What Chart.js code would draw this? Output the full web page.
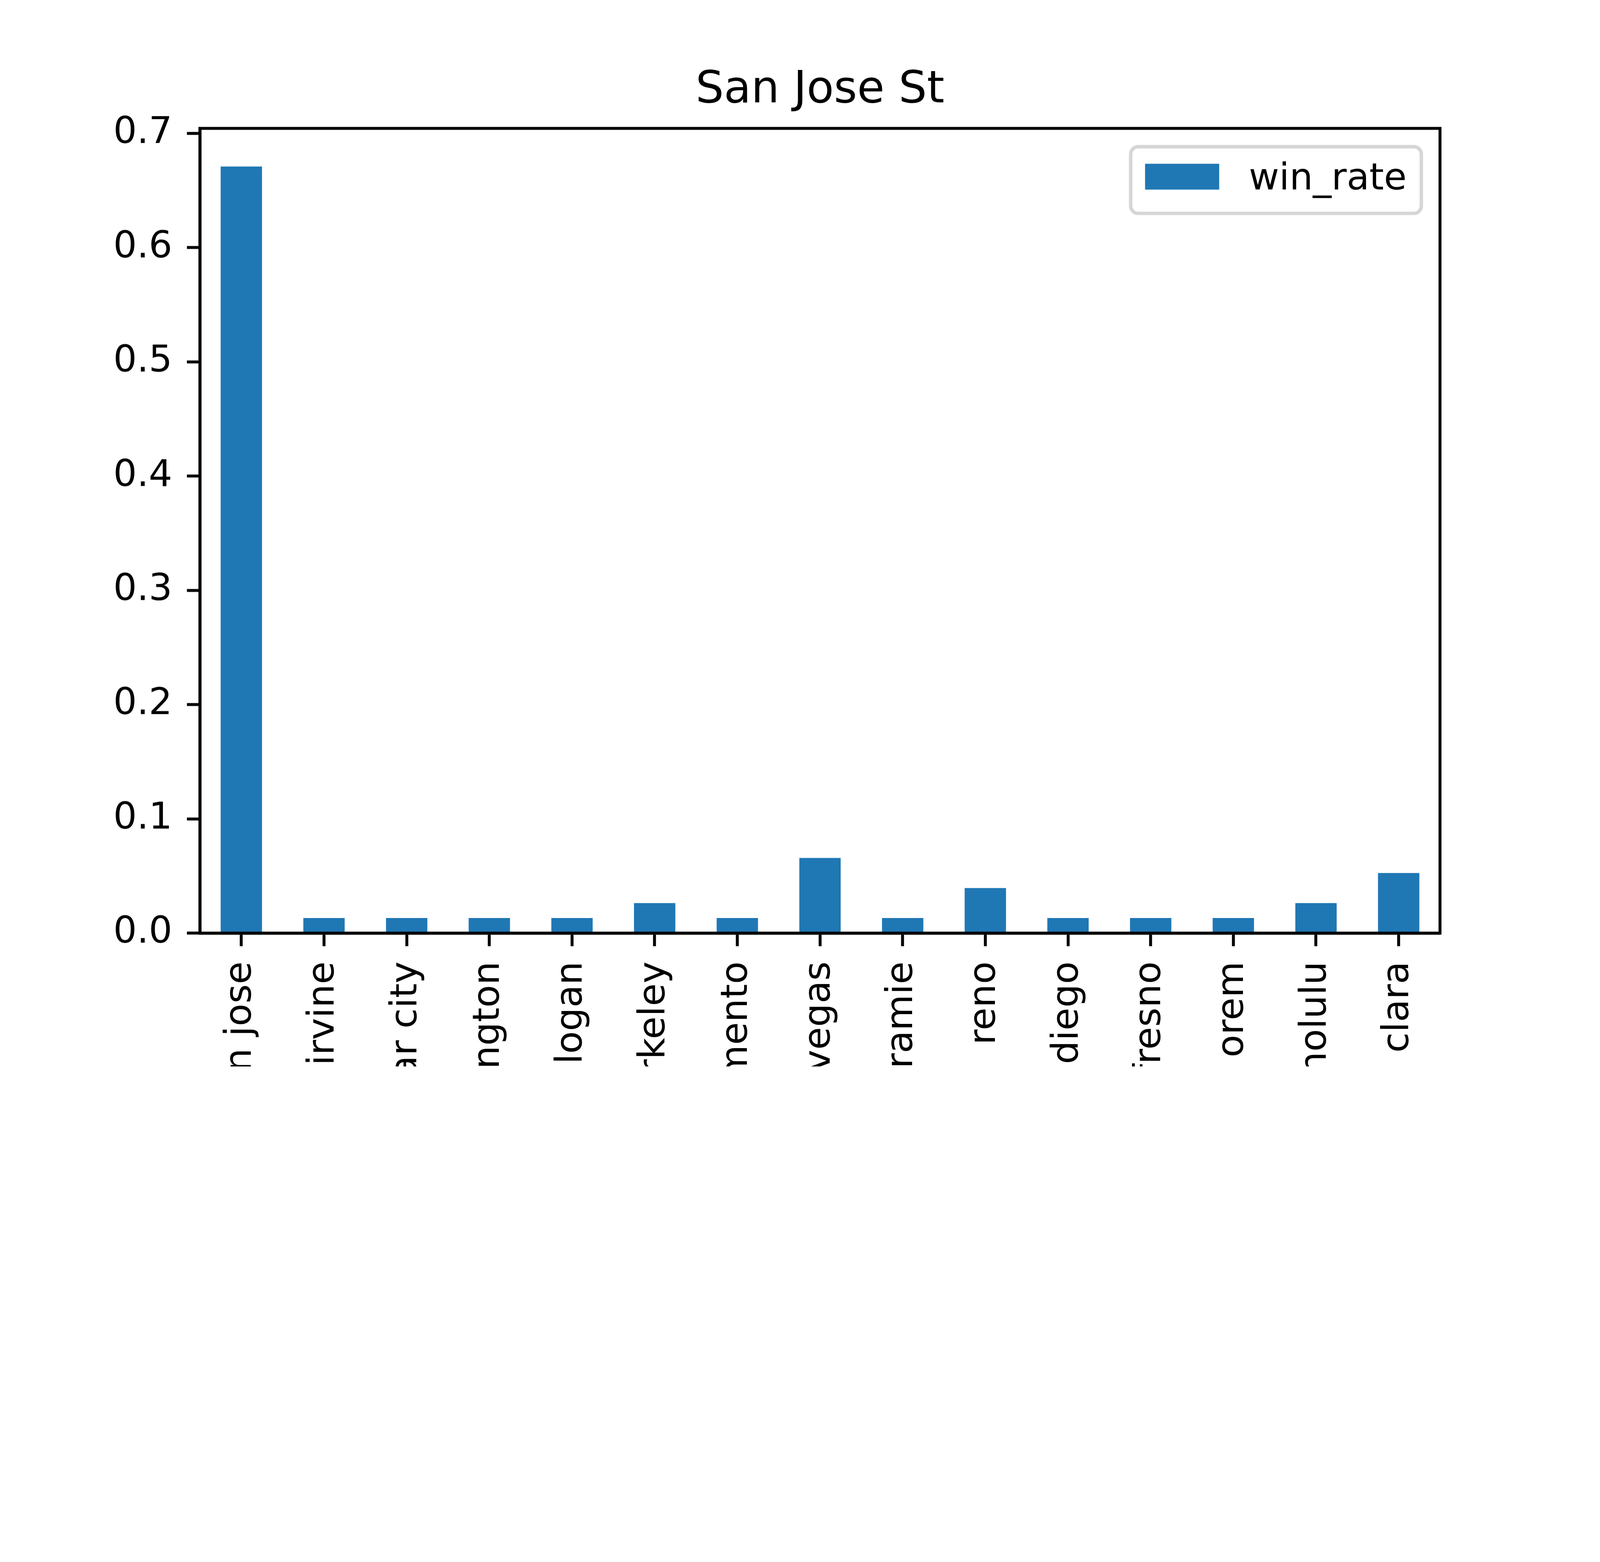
<!DOCTYPE html>
<html>
<head>
<meta charset="utf-8">
<script src="https://cdn.jsdelivr.net/npm/chart.js@4/dist/chart.umd.min.js"></script>
<style>
  html, body { margin: 0; padding: 0; background: #fff; overflow: hidden; }
  canvas { display: block; position: absolute; left: 0; top: 0; }
</style>
</head>
<body>
<canvas id="winChart"></canvas>
<script>
// city each game was played in, and the win rate there
const cities = [
  "san jose", "irvine", "cedar city", "arlington", "logan",
  "berkeley", "sacramento", "las vegas", "laramie", "reno",
  "san diego", "fresno", "orem", "honolulu", "santa clara"
];
const winRate = [
  0.671, 0.0132, 0.0132, 0.0132, 0.0132,
  0.0263, 0.0132, 0.0658, 0.0132, 0.0395,
  0.0132, 0.0132, 0.0132, 0.0263, 0.0526
];
const seriesName = "win_rate";
const chartTitle = "San Jose St";

const barColor = "#1f77b4";
const fontFamily = "'DejaVu Sans', 'Liberation Sans', sans-serif";

// sizes below are worked out for a 6000x4000 picture, scale them to the window
const S = Math.min(window.innerWidth / 6000, window.innerHeight / 4000);
const u = (v) => v * S;

const canvas = document.getElementById("winChart");
canvas.style.width = u(6000) + "px";
canvas.style.height = u(4000) + "px";

// full box round the plot, like matplotlib spines
const frame = {
  id: "frame",
  afterDatasetsDraw(chart) {
    const { ctx, chartArea: a } = chart;
    ctx.save();
    ctx.strokeStyle = "#000";
    ctx.lineWidth = u(11);
    ctx.strokeRect(a.left, a.top, a.right - a.left, a.bottom - a.top);
    ctx.restore();
  },
};

// legend box in the upper right corner of the plot
const boxLegend = {
  id: "boxLegend",
  afterDraw(chart) {
    const { ctx } = chart;
    ctx.save();
    ctx.beginPath();
    ctx.roundRect(u(4240), u(550), u(1090), u(250), u(28));
    ctx.fillStyle = "rgba(255,255,255,0.8)";
    ctx.fill();
    ctx.lineWidth = u(13);
    ctx.strokeStyle = "#d6d6d6";
    ctx.stroke();
    ctx.fillStyle = barColor;
    ctx.fillRect(u(4294), u(614), u(278), u(97));
    ctx.fillStyle = "#000";
    ctx.font = u(139) + "px " + fontFamily;
    ctx.textBaseline = "alphabetic";
    ctx.textAlign = "left";
    ctx.fillText(seriesName, u(4683), u(711));
    ctx.restore();
  },
};

new Chart(canvas.getContext("2d"), {
  type: "bar",
  data: {
    labels: cities,
    datasets: [
      {
        label: seriesName,
        data: winRate,
        backgroundColor: barColor,
        borderWidth: 0,
        barPercentage: 0.5,
        categoryPercentage: 1.0,
      },
    ],
  },
  plugins: [frame, boxLegend],
  options: {
    responsive: false,
    animation: false,
    layout: { padding: { left: 0, right: u(600), top: 0, bottom: 0 } },
    plugins: {
      legend: { display: false },
      tooltip: { enabled: false },
      title: {
        display: true,
        text: chartTitle,
        fullSize: false,
        color: "#000",
        font: { family: fontFamily, size: u(167), weight: "normal", lineHeight: 1.2 },
        padding: { top: u(240), bottom: u(41) },
      },
    },
    scales: {
      x: {
        offset: true,
        grid: {
          display: true,
          drawOnChartArea: false,
          drawTicks: true,
          tickLength: u(49),
          tickWidth: u(11),
          tickColor: "#000",
          offset: false,
        },
        border: { display: true, color: "#000", width: u(11) },
        ticks: {
          autoSkip: false,
          minRotation: 90,
          maxRotation: 90,
          padding: u(57),
          color: "#000",
          font: { family: fontFamily, size: u(139) },
        },
        afterFit(scale) {
          scale.height = u(500);
        },
      },
      y: {
        min: 0,
        max: 0.7044,
        grid: {
          display: true,
          drawOnChartArea: false,
          drawTicks: true,
          tickLength: u(49),
          tickWidth: u(11),
          tickColor: "#000",
        },
        border: { display: true, color: "#000", width: u(11) },
        ticks: {
          stepSize: 0.1,
          includeBounds: false,
          padding: u(55),
          color: "#000",
          font: { family: fontFamily, size: u(139) },
          callback: (v) => v.toFixed(1),
        },
        afterFit(scale) {
          scale.width = u(750);
        },
      },
    },
  },
});
</script>
</body>
</html>
